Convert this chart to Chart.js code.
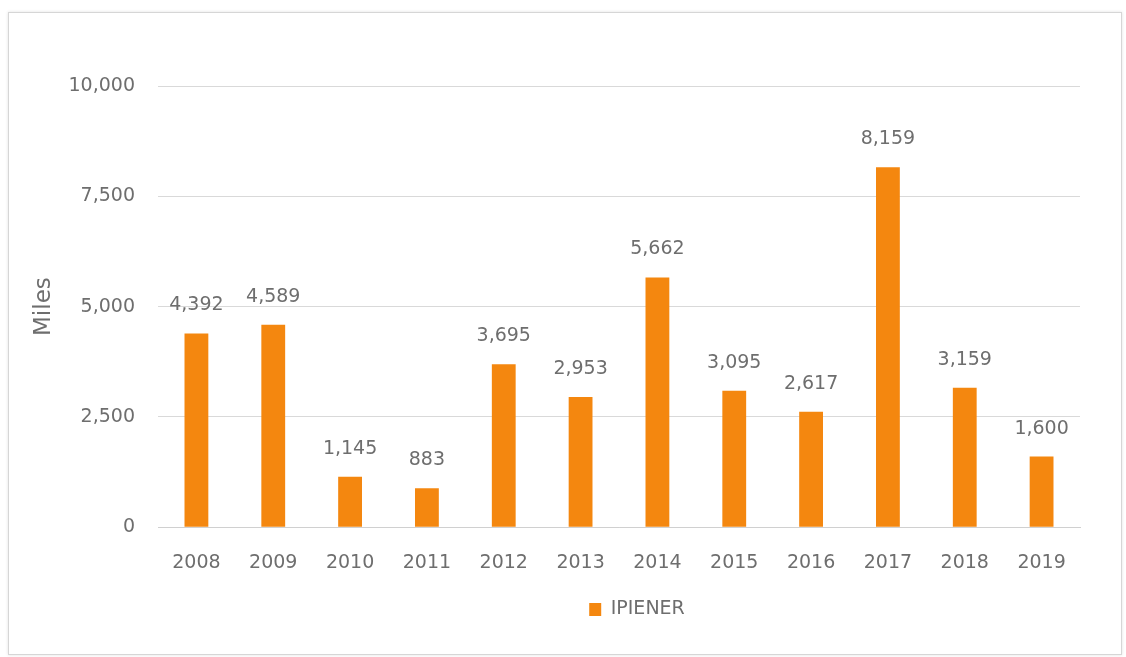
<!DOCTYPE html>
<html>
<head>
<meta charset="utf-8">
<script src="https://cdn.jsdelivr.net/npm/chart.js@4.4.1/dist/chart.umd.min.js"></script>
<style>
  html, body { margin: 0; padding: 0; background: #ffffff; }
  #wrap { position: relative; width: 1126px; height: 657px; overflow: hidden; }
  #frame { position: absolute; left: 8px; top: 12px; width: 1112px; height: 641px;
           border: 1px solid #d6d6d6; box-shadow: 0 0 3px rgba(0,0,0,0.12); }
  canvas { position: absolute; left: 0; top: 0; }
</style>
</head>
<body>
<div id="wrap">
  <div id="frame"></div>
  <canvas id="c" width="1126" height="657"></canvas>
</div>
<script>
const categories = ['2008','2009','2010','2011','2012','2013','2014','2015','2016','2017','2018','2019'];
const seriesName = 'IPIENER';
const seriesValues = [4392, 4589, 1145, 883, 3695, 2953, 5662, 3095, 2617, 8159, 3159, 1600];
const yTicks = [0, 2500, 5000, 7500, 10000];
const yTitle = 'Miles';

const FONT = "'DejaVu Sans', sans-serif";
const TEXT = '#6e6e6e';
const ORANGE = '#F4870F';

const fmt = v => v.toLocaleString('en-US');

const dataLabels = {
  id: 'dataLabels',
  afterDatasetsDraw(chart) {
    const ctx = chart.ctx;
    ctx.save();
    ctx.font = '19px ' + FONT;
    ctx.fillStyle = TEXT;
    ctx.textAlign = 'center';
    ctx.textBaseline = 'middle';
    chart.data.datasets.forEach((ds, di) => {
      const meta = chart.getDatasetMeta(di);
      meta.data.forEach((el, i) => {
        ctx.fillText(fmt(ds.data[i]), el.x, el.y - 28);
      });
    });
    ctx.restore();
  }
};

const legendShift = {
  id: 'legendShift',
  afterLayout(chart) {
    const lg = chart.legend;
    if (!lg) return;
    const center = (lg.left + lg.right) / 2;
    const d = 637 - center;
    lg.left += d; lg.right += d;
    lg.top -= 21; lg.bottom -= 21;
  }
};

new Chart(document.getElementById('c'), {
  type: 'bar',
  data: {
    labels: categories,
    datasets: [{
      label: seriesName,
      data: seriesValues,
      backgroundColor: ORANGE,
      borderWidth: 0,
      barPercentage: 0.31,
      categoryPercentage: 1.0
    }]
  },
  options: {
    responsive: false,
    animation: false,
    layout: { padding: { left: 20, right: 46, top: 86, bottom: 7 } },
    plugins: {
      tooltip: { enabled: false },
      legend: {
        position: 'bottom',
        labels: {
          font: { family: FONT, size: 19 },
          color: TEXT,
          boxWidth: 12,
          boxHeight: 13,
          padding: 23
        }
      }
    },
    scales: {
      x: {
        grid: { display: false, drawTicks: false },
        border: { display: true, color: '#d0d0d0' },
        ticks: { font: { family: FONT, size: 19 }, color: TEXT, padding: 24, maxRotation: 0 }
      },
      y: {
        min: 0, max: 10000,
        afterBuildTicks(scale) { scale.ticks = yTicks.map(v => ({ value: v })); },
        afterFit(scale) { scale.width = 138; },
        grid: { color: '#d9d9d9', drawTicks: false },
        border: { display: false },
        ticks: { font: { family: FONT, size: 19 }, color: TEXT, padding: 23, callback: v => fmt(v) },
        title: { display: true, text: yTitle, font: { family: FONT, size: 23 }, color: TEXT, padding: { top: 10, bottom: 0 } }
      }
    }
  },
  plugins: [dataLabels, legendShift]
});
</script>
</body>
</html>
